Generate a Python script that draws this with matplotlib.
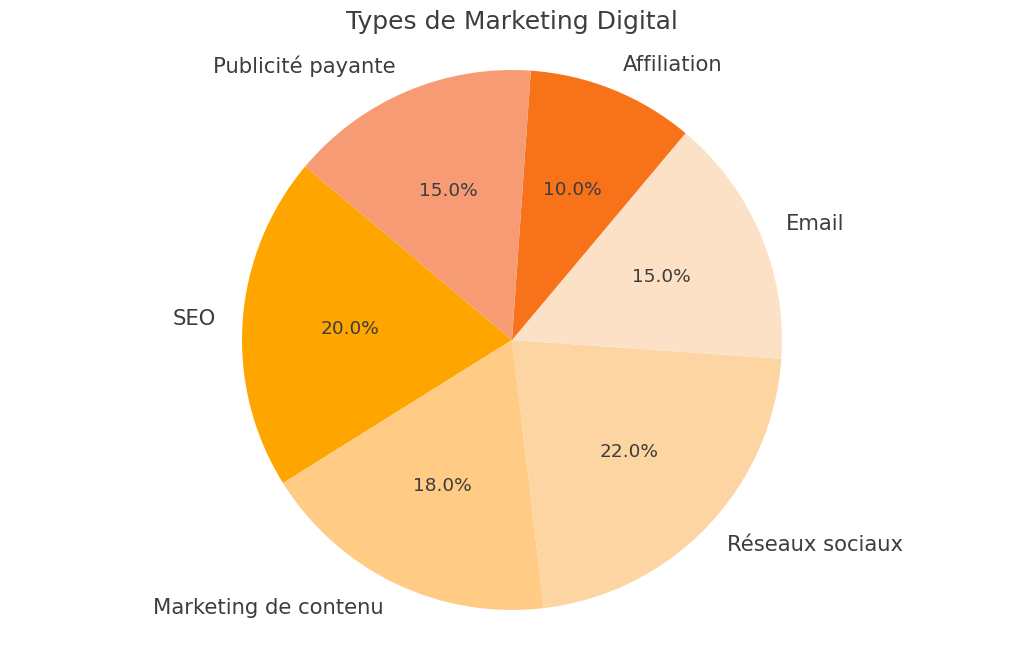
import matplotlib
matplotlib.use("Agg")
import matplotlib.pyplot as plt

labels = ["SEO", "Marketing de contenu", "Réseaux sociaux", "Email", "Affiliation", "Publicité payante"]
values = [20, 18, 22, 15, 10, 15]
colors = ["#FFA500", "#FFCB85", "#FDD5A2", "#FDE1C6", "#F77218", "#F79B74"]

text_color = "#3d3d3d"
fig = plt.figure(figsize=(10.24, 6.51), dpi=100)
W, H = 1024, 651
R = 270
cx, cy = 512, 651 - 340
half = 1.25
ax = fig.add_axes([(cx - half * R) / W, (cy - half * R) / H, 2 * half * R / W, 2 * half * R / H])
wedges, texts, autotexts = ax.pie(values, labels=labels, colors=colors, startangle=140,
                                  autopct="%1.1f%%", textprops={"color": text_color})
for t in texts:
    t.set_fontsize(15.2)
for t in autotexts:
    t.set_fontsize(13.3)
ax.set_xlim(-half, half)
ax.set_ylim(-half, half)
ax.set_aspect("equal")
ax.axis("off")
fig.text(0.5, 1 - 22 / H, "Types de Marketing Digital", ha="center", va="center",
         fontsize=18, color=text_color)
fig.savefig("out.png", dpi=100)
